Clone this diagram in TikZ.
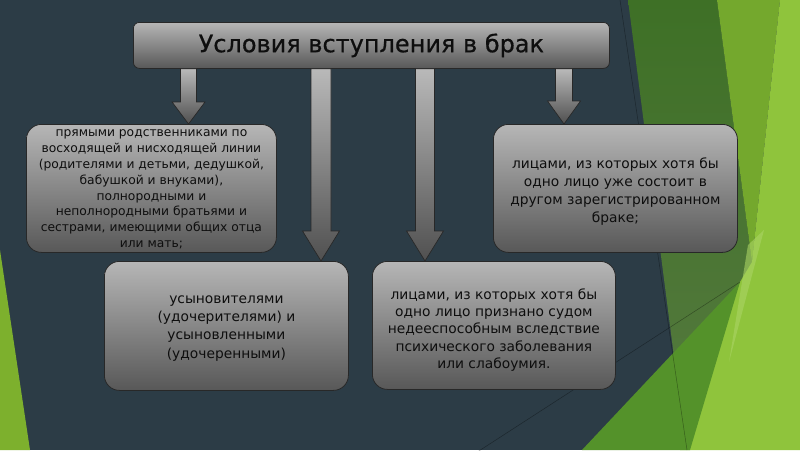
\documentclass[tikz,border=0pt]{standalone}
\usepackage{fontspec}
\setmainfont{DejaVu Sans}
\newfontfamily\ttlfont[FakeBold=0.6]{DejaVu Sans}
\usetikzlibrary{calc}
\definecolor{slate}{RGB}{44,60,70}
\definecolor{dgreen}{RGB}{62,112,38}
\definecolor{olive}{RGB}{86,122,64}
\definecolor{mgreen}{RGB}{116,168,45}
\definecolor{lime}{RGB}{143,196,60}
\definecolor{bgreen}{RGB}{84,146,42}
\definecolor{pale}{RGB}{170,212,100}
\definecolor{sliver}{RGB}{125,176,45}
\definecolor{boxtop}{RGB}{182,182,182}
\definecolor{boxbot}{RGB}{88,88,88}
\definecolor{boxline}{RGB}{40,40,40}
\definecolor{textc}{RGB}{14,14,14}
\definecolor{arrtop}{RGB}{185,185,185}
\definecolor{arrbot}{RGB}{80,80,80}
\tikzset{
  gbox/.style={draw=boxline, line width=0.8pt, rounded corners=15pt,
    top color=boxtop, bottom color=boxbot, inner sep=0pt, anchor=north west},
  titlebox/.style={gbox, rounded corners=6pt, text=textc,
    font=\ttlfont\fontsize{24}{28}\selectfont},
  bodytext/.style={text=textc, align=center, inner sep=0pt,
    font=\fontsize{13.8}{18.2}\selectfont},
  smalltext/.style={text=textc, align=center, inner sep=0pt,
    font=\fontsize{12.3}{15.9}\selectfont},
  arrowsty/.style={draw=boxline, line width=0.7pt, top color=arrtop,
    bottom color=arrbot},
  facetline/.style={draw=black, draw opacity=0.35, line width=0.5pt}
}
\newcommand\blockarr[6]{%
  \path[arrowsty] let \p1=(#2.south), \p2=(#3.north) in
    (#1pt-#4pt,\y1) -- (#1pt+#4pt,\y1) -- (#1pt+#4pt,\y2+#6pt)
    -- (#1pt+#5pt,\y2+#6pt) -- (#1pt,\y2) -- (#1pt-#5pt,\y2+#6pt)
    -- (#1pt-#4pt,\y2+#6pt) -- cycle;}
\begin{document}
\begin{tikzpicture}[x=1pt,y=-1pt]
\useasboundingbox (0,0) rectangle (800,450);
\fill[slate] (0,0) rectangle (800,450);
% facet shapes
\fill[sliver] (0,250) -- (30,450) -- (0,450) -- cycle;
\shade[top color=dgreen, bottom color=olive] (628,0) -- (717,0) -- (752,262) -- (686,450) -- cycle;
\fill[mgreen] (717,0) -- (780,0) -- (752,262) -- cycle;
\fill[lime] (780,0) -- (800,0) -- (800,450) -- (680,450) -- (740,282) -- (752,262) -- cycle;
\fill[bgreen] (582,450) -- (740,282) -- (690,450) -- cycle;
\fill[pale, opacity=0.6] (748,245) -- (764,230) -- (729,362) -- cycle;
\draw[facetline] (620,0) -- (687,450);
\draw[facetline] (468,458) -- (740,282);
% boxes
\node[titlebox, minimum width=476pt, minimum height=46pt] (title) at (133,22) {Условия вступления в брак};
\node[gbox, minimum width=250pt, minimum height=128pt] (b1) at (26,124) {};
\node[gbox, minimum width=244pt, minimum height=129pt] (b2) at (104,261) {};
\node[gbox, minimum width=243pt, minimum height=128pt] (b3) at (372,261) {};
\node[gbox, minimum width=244pt, minimum height=128pt] (b4) at (493,124) {};
% texts
\node[smalltext] (t1) at ([yshift=-1pt]b1.center)
  {прямыми родственниками по\\восходящей и нисходящей линии\\(родителями и детьми, дедушкой,\\бабушкой и внуками),\\полнородными и\\неполнородными братьями и\\сестрами, имеющими общих отца\\или мать;};
\node[bodytext] (t2) at ([yshift=-2.5pt]b2.center)
  {усыновителями\\(удочерителями) и\\усыновленными\\(удочеренными)};
\node[bodytext, font=\fontsize{13.8}{17.3}\selectfont] (t3) at ([yshift=-4.5pt]b3.center)
  {лицами, из которых хотя бы\\одно лицо признано судом\\недееспособным вследствие\\психического заболевания\\или слабоумия.};
\node[bodytext] (t4) at ([yshift=-3pt]b4.center)
  {лицами, из которых хотя бы\\одно лицо уже состоит в\\другом зарегистрированном\\браке;};
% arrows
\blockarr{188.5}{title}{b1}{8}{16.5}{22}
\blockarr{321}{title}{b2}{10}{18.5}{30}
\blockarr{425}{title}{b3}{9.5}{18.5}{30}
\blockarr{564}{title}{b4}{8.5}{16.5}{23}
\end{tikzpicture}
\end{document}
